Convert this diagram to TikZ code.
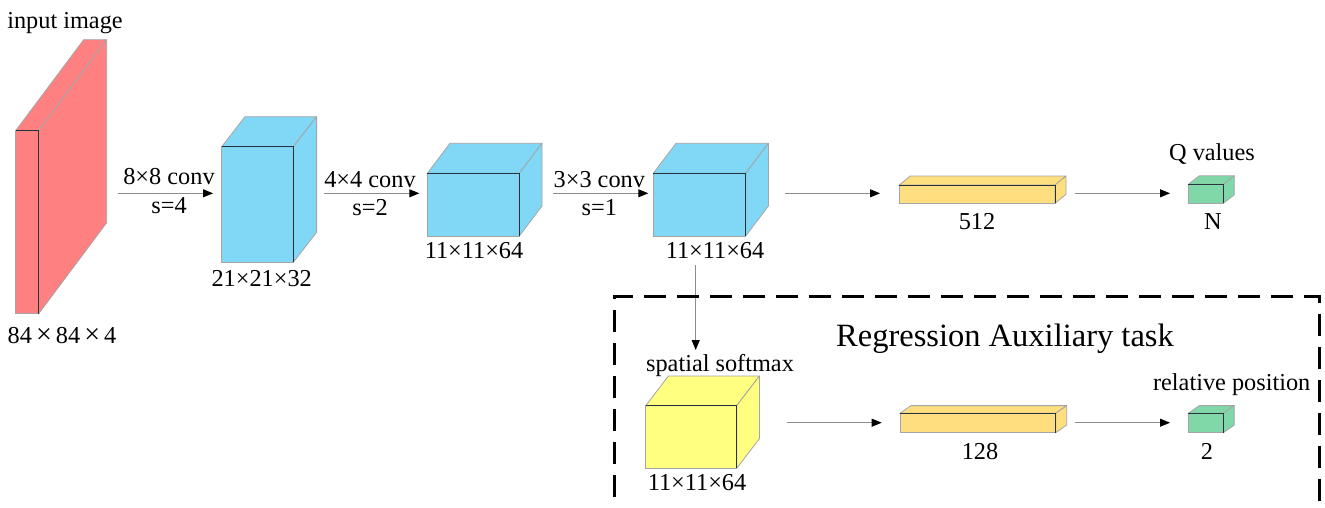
\documentclass[tikz,border=0pt]{standalone}
\usepackage{fontspec}
\setmainfont{Liberation Serif}
\usetikzlibrary{arrows.meta}
\definecolor{slabred}{RGB}{255,128,128}
\definecolor{cubeblue}{RGB}{128,216,246}
\definecolor{barorange}{RGB}{255,222,128}
\definecolor{outgreen}{RGB}{128,216,168}
\definecolor{softyellow}{RGB}{255,255,128}
\definecolor{edgegray}{RGB}{165,165,165}
\definecolor{darkline}{RGB}{40,50,60}
\definecolor{linegray}{RGB}{140,140,140}
\tikzset{
  frontface/.style={draw=edgegray, line width=0.8pt, inner sep=0pt, outer sep=0pt},
  faceedge/.style={draw=edgegray, line width=0.8pt, line join=round},
  darkedge/.style={draw=darkline, line width=0.9pt},
  arr/.style={draw=linegray, line width=0.9pt, -{Triangle[length=10pt,width=8pt,color=black]}},
  lbl/.style={font=\fontsize{24.3}{27}\selectfont, inner sep=0pt, anchor=base},
  auxframe/.style={draw=black, line width=3pt, dash pattern=on 22pt off 11pt}
}
\newcommand\cuboid[8]{%
  \node[frontface, fill=#8, minimum width={#4-#2}, minimum height={#5-#3}] (#1) at ({(#2+#4)/2},{(#3+#5)/2}) {};
  \filldraw[faceedge, fill=#8] (#1.north west) -- ++(#6,#7) -- ++({#4-#2},0) -- (#1.north east) -- cycle;
  \filldraw[faceedge, fill=#8] (#1.north east) -- ++(#6,#7) -- ++(0,{#5-#3}) -- (#1.south east) -- cycle;
  \draw[darkedge] (#1.north west) -- (#1.north east) -- (#1.south east);
}
\newcommand\wtimes{\makebox[24pt]{\fontsize{28}{28}\selectfont ×}}
\begin{document}
\begin{tikzpicture}[x=1pt, y=-1pt]
\clip (0,0) rectangle (1325,507);
\fill[white] (0,0) rectangle (1325,507);

% boxes
\cuboid{slab}{15.7}{130.7}{38.7}{313.7}{68}{-91}{slabred}
\cuboid{cubeA}{221.7}{146.7}{293.3}{262.3}{23.3}{-30}{cubeblue}
\cuboid{cubeB}{427.3}{173.3}{519.3}{236}{22.7}{-30}{cubeblue}
\cuboid{cubeC}{653.3}{173.3}{745.7}{236}{22.7}{-30}{cubeblue}
\cuboid{barQ}{899.3}{185}{1055}{203.3}{11}{-9}{barorange}
\cuboid{outQ}{1188.3}{184.3}{1223.3}{203.3}{11}{-8.5}{outgreen}
\cuboid{soft}{645.7}{405.7}{736.7}{468.3}{22.7}{-29.7}{softyellow}
\cuboid{barR}{900}{413.3}{1055.7}{432.7}{11}{-7.7}{barorange}
\cuboid{outR}{1188.3}{413.3}{1223.3}{432.7}{11}{-7.7}{outgreen}

% labels
\node[lbl] (tIn) at (65,28.3) {input image};
\node[lbl] (tInDim) at (62,343) {84\wtimes84\wtimes4};
\node[lbl] (tK1) at (169,184.3) {8×8 conv};
\node[lbl] (tS1) at (169,213.3) {s=4};
\node[lbl] (tDimA) at (261.7,286.7) {21×21×32};
\node[lbl] (tK2) at (370,187.3) {4×4 conv};
\node[lbl] (tS2) at (370,215) {s=2};
\node[lbl] (tDimB) at (474,258.3) {11×11×64};
\node[lbl] (tK3) at (599.3,187.3) {3×3 conv};
\node[lbl] (tS3) at (599.3,215) {s=1};
\node[lbl] (tDimC) at (715,258.3) {11×11×64};
\node[lbl] (t512) at (977,229.3) {512};
\node[lbl] (tQ) at (1212,160.7) {Q values};
\node[lbl] (tN) at (1213,229.3) {N};
\node[lbl, font=\fontsize{32.5}{35}\selectfont] (tAux) at (1005,346.7) {Regression Auxiliary task};
\node[lbl] (tSoft) at (720,371.7) {spatial softmax};
\node[lbl] (tDimS) at (697,490) {11×11×64};
\node[lbl] (t128) at (980,459) {128};
\node[lbl] (tRel) at (1231.7,390) {relative position};
\node[lbl] (t2) at (1207,459) {2};

% arrow end points
\coordinate (a1s) at (118,193.3);   \coordinate (a1e) at (213,193.3);
\coordinate (a2s) at (324.3,193.3); \coordinate (a2e) at (419.3,193.3);
\coordinate (a3s) at (553.3,193.3); \coordinate (a3e) at (648.3,193.3);
\coordinate (a4s) at (785,193.3);   \coordinate (a4e) at (880,193.3);
\coordinate (a5s) at (1075,193.3);  \coordinate (a5e) at (1170,193.3);
\coordinate (a6s) at (695.7,265);   \coordinate (a6e) at (695.7,350);
\coordinate (a7s) at (787.3,422.7); \coordinate (a7e) at (881.7,422.7);
\coordinate (a8s) at (1075,422.7);  \coordinate (a8e) at (1170,422.7);

\draw[arr] (a1s) -- (a1e);
\draw[arr] (a2s) -- (a2e);
\draw[arr] (a3s) -- (a3e);
\draw[arr] (a4s) -- (a4e);
\draw[arr] (a5s) -- (a5e);
\draw[arr] (a6s) -- (a6e);
\draw[arr] (a7s) -- (a7e);
\draw[arr] (a8s) -- (a8e);

% auxiliary task frame
\draw[auxframe] (614,530) -- (614,296) -- (1319.3,296) -- (1319.3,530);
\end{tikzpicture}
\end{document}
